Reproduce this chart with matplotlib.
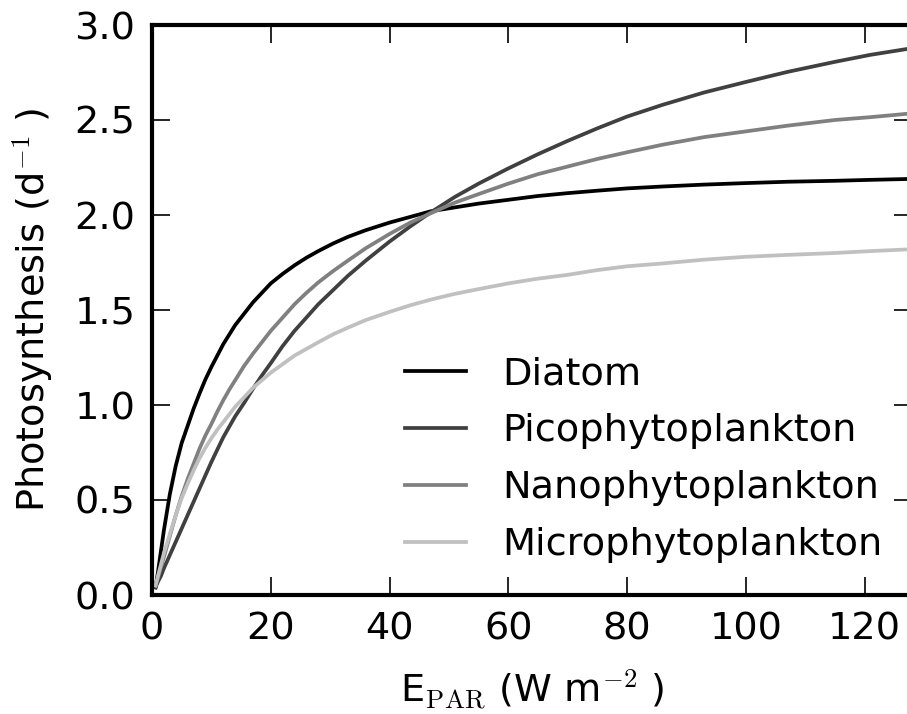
import numpy as np
from matplotlib import pyplot as plt

plt.rcParams['mathtext.fontset'] = 'cm'
plt.rcParams['font.family'] = 'DejaVu Sans'

# Значения
E_par = [0.6, 1, 1.5, 2, 3, 4, 5, 6, 7, 8, 9, 10, 11, 12, 13, 14, 15.5, 17, 18.5, 20,
         22, 24, 26, 28, 30.5, 33, 36, 40, 43.5, 47, 51, 55, 60, 65, 70, 75, 80, 86,
         93, 100, 107, 115, 121, 128]
diatom = [0.04, 0.12, 0.23, 0.34, 0.53, 0.68, 0.80, 0.89, 0.98, 1.06, 1.135, 1.20,
          1.26, 1.32, 1.37, 1.42, 1.48, 1.54, 1.59, 1.64, 1.69, 1.735, 1.775, 1.81,
          1.85, 1.885, 1.92, 1.96, 1.99, 2.02, 2.04, 2.06, 2.08, 2.10, 2.115, 2.128,
          2.14, 2.15, 2.16, 2.168, 2.175, 2.18, 2.185, 2.19]
pico = [0.04, 0.07, 0.10, 0.14, 0.21, 0.28, 0.35, 0.42, 0.49, 0.56, 0.63, 0.70,
        0.765, 0.83, 0.885, 0.94, 1.01, 1.085, 1.155, 1.22, 1.31, 1.39, 1.46, 1.53,
        1.605, 1.68, 1.76, 1.86, 1.94, 2.015, 2.095, 2.165, 2.245, 2.32, 2.39, 2.456,
        2.518, 2.58, 2.645, 2.70, 2.753, 2.806, 2.843, 2.878]
nano = [0.05, 0.09, 0.145, 0.20, 0.31, 0.42, 0.52, 0.61, 0.69, 0.77, 0.84, 0.90,
        0.965, 1.025, 1.08, 1.13, 1.205, 1.27, 1.33, 1.39, 1.46, 1.53, 1.59, 1.645,
        1.705, 1.76, 1.825, 1.90, 1.96, 2.01, 2.065, 2.11, 2.165, 2.215, 2.255, 2.295,
        2.33, 2.37, 2.41, 2.44, 2.47, 2.50, 2.515, 2.535]
micro = [0.05, 0.10, 0.16, 0.22, 0.32, 0.42, 0.51, 0.585, 0.655, 0.72, 0.775, 0.825,
         0.87, 0.91, 0.95, 0.99, 1.04, 1.09, 1.13, 1.17, 1.215, 1.26, 1.295, 1.33,
         1.372, 1.407, 1.447, 1.49, 1.525, 1.555, 1.585, 1.61, 1.64, 1.665, 1.685, 1.71,
         1.73, 1.745, 1.765, 1.78, 1.79, 1.80, 1.81, 1.82]

labels = ['Diatom', 'Picophytoplankton', 'Nanophytoplankton', 'Microphytoplankton']
colors = ['black', '#404040', '#808080', '#c0c0c0']
series = [diatom, pico, nano, micro]

fig = plt.figure(figsize=(9.07, 7.14), dpi=100)
ax = fig.add_axes([152 / 907, 1 - 595 / 714, 760 / 907, 570 / 714])

for ys, lab, c in zip(series, labels, colors):
    ax.plot(E_par, ys, color=c, lw=2.7, label=lab)

ax.set_xlim(0, 128)
ax.set_ylim(0, 3.0)
ax.set_xticks(np.arange(0, 121, 20))
ax.set_yticks(np.arange(0, 3.01, 0.5))
ax.tick_params(direction='in', top=True, right=True, length=13, width=1.2,
               labelsize=27.5, pad=12)
for s in ax.spines.values():
    s.set_linewidth(3)

ax.set_xlabel(r'E$_{\rm PAR}$ (W m$^{-2}$ )', fontsize=27.5, labelpad=14)
ax.set_ylabel(r'Photosynthesis (d$^{-1}$ )', fontsize=27.5, labelpad=14)

ax.legend(loc='upper left', bbox_to_anchor=(0.333, 0.419), frameon=False, fontsize=27.5,
          borderpad=0, borderaxespad=0, handlelength=1.6, handletextpad=0.95,
          labelspacing=0.55)

fig.savefig('out.png', dpi=100)
